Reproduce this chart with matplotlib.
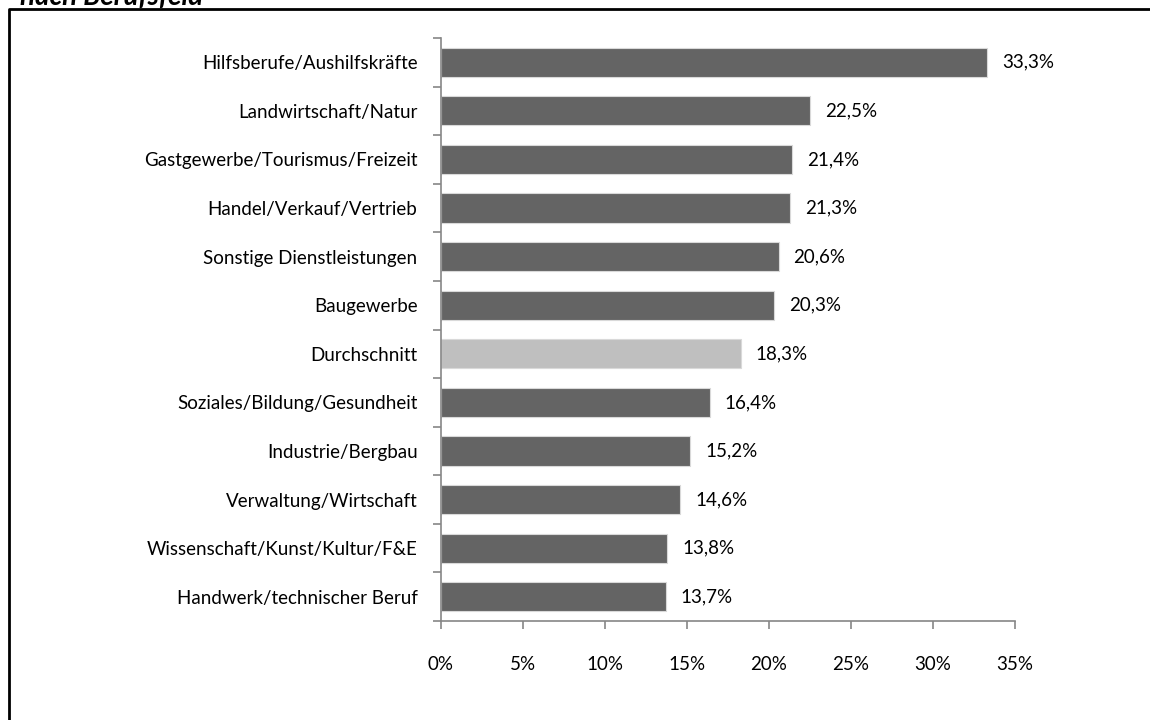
import matplotlib
matplotlib.use("Agg")
import matplotlib.pyplot as plt
from matplotlib.lines import Line2D
from matplotlib.ticker import FuncFormatter, MultipleLocator

categories = [
    "Hilfsberufe/Aushilfskräfte",
    "Landwirtschaft/Natur",
    "Gastgewerbe/Tourismus/Freizeit",
    "Handel/Verkauf/Vertrieb",
    "Sonstige Dienstleistungen",
    "Baugewerbe",
    "Durchschnitt",
    "Soziales/Bildung/Gesundheit",
    "Industrie/Bergbau",
    "Verwaltung/Wirtschaft",
    "Wissenschaft/Kunst/Kultur/F&E",
    "Handwerk/technischer Beruf",
]
values = [33.3, 22.5, 21.4, 21.3, 20.6, 20.3, 18.3, 16.4, 15.2, 14.6, 13.8, 13.7]
title = "nach Berufsfeld"


def main():
    plt.rcParams["font.family"] = ["Lato", "DejaVu Sans"]
    fs = 13.5
    fig = plt.figure(figsize=(11.5, 7.2), dpi=100)
    ax = fig.add_axes([441 / 1150, 1 - 621 / 720, 574 / 1150, 583 / 720])

    n = len(categories)
    ypos = list(range(n))
    colors = ["#bfbfbf" if c == "Durchschnitt" else "#646464" for c in categories]
    ax.barh(ypos, values, height=0.6, color=colors, edgecolor="#d9d9d9", linewidth=0.8)

    for y, v in zip(ypos, values):
        ax.text(v + 0.9, y, f"{v:.1f}%".replace(".", ","), va="center", ha="left",
                fontsize=fs, color="black")

    ax.set_xlim(0, 35)
    ax.set_ylim(n - 0.5, -0.5)
    ax.xaxis.set_major_locator(MultipleLocator(5))
    ax.xaxis.set_major_formatter(FuncFormatter(lambda x, p: f"{x:.0f}%"))
    ax.set_yticks(ypos)
    ax.set_yticklabels(categories, fontsize=fs)
    ax.set_yticks([i - 0.5 for i in range(n + 1)], minor=True)

    for s in ["top", "right"]:
        ax.spines[s].set_visible(False)
    for s in ["left", "bottom"]:
        ax.spines[s].set_color("#868686")
        ax.spines[s].set_linewidth(1.2)

    ax.tick_params(axis="y", which="major", length=0, pad=17)
    ax.tick_params(axis="y", which="minor", length=6, color="#868686", width=1.2)
    ax.tick_params(axis="x", length=6, color="#868686", width=1.2, pad=19, labelsize=fs)

    # frame around chart
    x0 = 8.5 / 1150
    y0 = 1 - 8.5 / 720
    fig.add_artist(Line2D([x0, x0, 1], [0, y0, y0], color="black", linewidth=2.0,
                          transform=fig.transFigure))
    fig.text(20 / 1150, 1 - 5 / 720, title, fontsize=20, fontweight="bold",
             fontstyle="italic", va="baseline", ha="left")

    fig.savefig("out.png", dpi=100)


if __name__ == "__main__":
    main()
